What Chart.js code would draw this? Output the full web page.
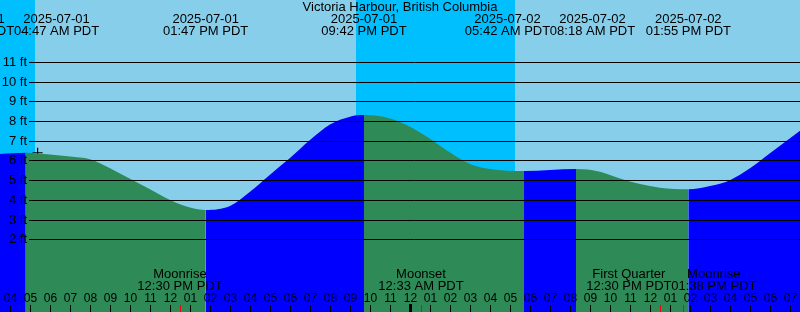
<!DOCTYPE html>
<html>
<head>
<meta charset="utf-8">
<title>Victoria Harbour tides</title>
<script src="https://cdn.jsdelivr.net/npm/chart.js@4.4.1/dist/chart.umd.min.js"></script>
<style>
html, body { margin: 0; padding: 0; background: #87CEEB; }
#wrap { width: 800px; height: 312px; }
</style>
</head>
<body>
<div id="wrap"><canvas id="tidechart"></canvas></div>
<script>
// hours counted from 2025-07-01 00:00 PDT
var tideHours = [3.5, 4.783, 6, 7, 8, 9, 10, 11, 12, 13, 13.783, 15, 16, 17, 18, 19, 20, 21, 21.7,
                 23, 24, 25, 26, 27, 28, 29.7, 32.3, 33.5, 34.5, 35.5, 36.5, 37.917, 39, 40, 41, 42, 43.5];
var tideFeet  = [6.33, 6.39, 6.3, 6.2, 6.06, 5.6, 5.07, 4.54, 4.0, 3.62, 3.49, 3.69, 4.41, 5.28, 6.12, 7.03, 7.82, 8.22, 8.3,
                 8.13, 7.71, 7.1, 6.4, 5.82, 5.56, 5.46, 5.56, 5.43, 5.09, 4.8, 4.62, 4.54, 4.7, 5.0, 5.6, 6.36, 7.51];

var eventHours = [3.62, 4.783, 13.783, 21.7, 29.7, 32.3, 37.917];
var eventDates = ["2025-07-01", "2025-07-01", "2025-07-01", "2025-07-01", "2025-07-02", "2025-07-02", "2025-07-02"];
var eventTimes = ["03:37 AM PDT", "04:47 AM PDT", "01:47 PM PDT", "09:42 PM PDT", "05:42 AM PDT", "08:18 AM PDT", "01:55 PM PDT"];

var moonHours = [12.5, 24.55, 36.5, 37.633];
var moonNames = ["Moonrise", "Moonset", "First Quarter", "Moonrise"];
var moonTimes = ["12:30 PM PDT", "12:33 AM PDT", "12:30 PM PDT", "01:38 PM PDT"];

var nightStart = [0, 21.3];
var nightEnd = [5.25, 29.25];

var markHour = [5.38];
var markFeet = [6.39];

var footTicks = [2, 3, 4, 5, 6, 7, 8, 9, 10, 11];
var firstHour = 4;
var hourLabels = ["04","05","06","07","08","09","10","11","12","01","02","03","04","05","06","07","08","09","10","11",
                  "12","01","02","03","04","05","06","07","08","09","10","11","12","01","02","03","04","05","06","07"];
var midnightHour = 24;

var title = "Victoria Harbour, British Columbia";

var skyDay = "#87CEEB", skyNight = "#00BFFF", ebb = "#2E8B57", flood = "#0000FF";
var font = '13px "Liberation Sans", Arial, sans-serif';
var smallFont = '12px "Liberation Sans", Arial, sans-serif';

function spread(xs, w) {
    var out = xs.slice();
    for (var i = 1; i < out.length; i++) {
        if (out[i] - out[i - 1] < w) {
            var mid = (out[i] + out[i - 1]) / 2;
            out[i - 1] = mid - w / 2;
            out[i] = mid + w / 2;
        }
    }
    return out;
}

var backdrop = {
    id: 'backdrop',
    beforeDatasetsDraw: function(chart) {
        var ctx = chart.ctx, xs = chart.scales.x, a = chart.chartArea;
        ctx.save();
        ctx.fillStyle = skyDay;
        ctx.fillRect(a.left, a.top, a.right - a.left, a.bottom - a.top);
        ctx.fillStyle = skyNight;
        for (var i = 0; i < nightStart.length; i++) {
            var x0 = Math.max(a.left, xs.getPixelForValue(nightStart[i]));
            var x1 = xs.getPixelForValue(nightEnd[i]);
            ctx.fillRect(x0, a.top, x1 - x0, a.bottom - a.top);
        }
        ctx.restore();
    }
};

var overlay = {
    id: 'overlay',
    afterDatasetsDraw: function(chart) {
        var ctx = chart.ctx, xs = chart.scales.x, ys = chart.scales.y, a = chart.chartArea;
        ctx.save();
        // level lines
        ctx.strokeStyle = "#000";
        ctx.lineWidth = 1;
        ctx.font = font;
        ctx.fillStyle = "#000";
        ctx.textAlign = "right";
        ctx.textBaseline = "alphabetic";
        footTicks.forEach(function(f) {
            var y = Math.round(ys.getPixelForValue(f)) + 0.5;
            ctx.beginPath();
            ctx.moveTo(29, y);
            ctx.lineTo(a.right, y);
            ctx.stroke();
            ctx.fillText(f + " ft", 27, y + 3.5);
        });

        // title and tide events
        ctx.textAlign = "center";
        ctx.fillText(title, 400, 11);
        var ex = spread(eventHours.map(function(h) { return xs.getPixelForValue(h); }), 85);
        for (var i = 0; i < ex.length; i++) {
            ctx.fillText(eventDates[i], ex[i], 22.5);
            ctx.fillText(eventTimes[i], ex[i], 35);
        }

        // moon events
        var mx = spread(moonHours.map(function(h) { return xs.getPixelForValue(h); }), 85);
        for (var j = 0; j < mx.length; j++) {
            ctx.fillText(moonNames[j], mx[j], 277.5);
            ctx.fillText(moonTimes[j], mx[j], 290);
        }

        // hour ticks
        ctx.font = smallFont;
        for (var k = 0; k < hourLabels.length; k++) {
            var h = firstHour + k;
            var x = Math.round(xs.getPixelForValue(h));
            ctx.fillText(hourLabels[k], x + 0.5, 302);
            if (h === midnightHour) {
                ctx.fillRect(x - 1, 304, 3, 8);
            } else {
                ctx.fillRect(x, 305, 1, 7);
            }
        }
        ctx.fillStyle = "#FF0000";
        moonHours.forEach(function(h) {
            var x = Math.round(xs.getPixelForValue(h));
            ctx.fillRect(x, 305, 1, 7);
        });
        ctx.restore();
    }
};

var tidePoints = tideHours.map(function(h, i) { return { x: h, y: tideFeet[i] }; });
var markPoints = markHour.map(function(h, i) { return { x: h, y: markFeet[i] }; });

new Chart(document.getElementById("tidechart"), {
    type: 'line',
    data: {
        datasets: [{
            label: "Tide",
            data: tidePoints,
            fill: 'start',
            backgroundColor: flood,
            borderWidth: 0,
            borderColor: 'rgba(0,0,0,0)',
            pointRadius: 0,
            cubicInterpolationMode: 'monotone',
            segment: {
                backgroundColor: function(c) { return c.p1.parsed.y < c.p0.parsed.y ? ebb : flood; }
            }
        }, {
            label: "Mark",
            data: markPoints,
            showLine: false,
            pointStyle: 'cross',
            pointRadius: 5,
            pointBorderColor: "#000",
            pointBorderWidth: 1.2
        }]
    },
    options: {
        responsive: true,
        maintainAspectRatio: false,
        animation: false,
        layout: { padding: 0, autoPadding: false },
        scales: {
            x: { type: 'linear', min: 3.5, max: 43.5, display: false },
            y: { type: 'linear', min: -1.68, max: 14.13, display: false }
        },
        plugins: {
            legend: { display: false },
            tooltip: { enabled: false }
        }
    },
    plugins: [backdrop, overlay]
});
</script>
</body>
</html>
